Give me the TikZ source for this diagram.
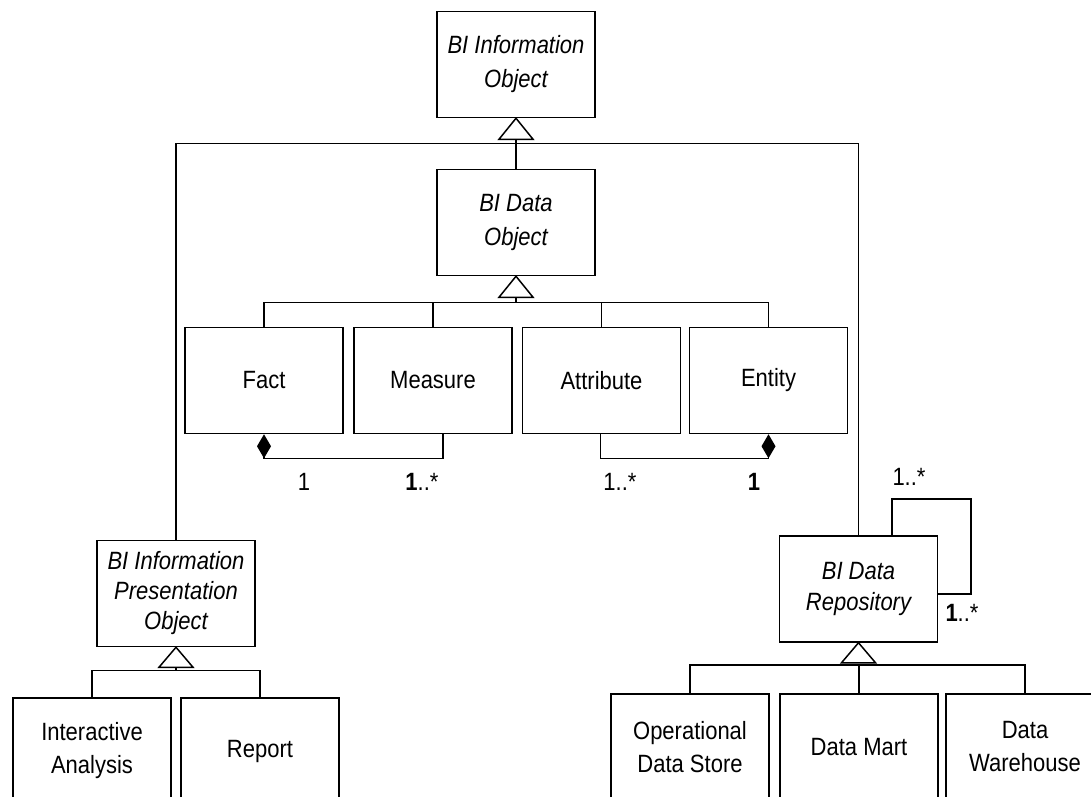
\documentclass[tikz,border=0pt]{standalone}
\usepackage{fontspec}
\setmainfont{Liberation Sans}[FakeStretch=0.88]
\usetikzlibrary{arrows.meta}

\tikzset{
    cls/.style={draw, line width=1.5pt, minimum width=158pt, minimum height=106pt,
        inner sep=2pt, align=center, font=\fontsize{25}{33}\selectfont},
    abstractcls/.style={cls, font=\fontsize{25}{34}\selectfont\itshape},
    link/.style={line width=1.5pt},
    genhead/.style={line width=1.5pt, fill=white},
    comp/.style={line width=1.5pt, {Diamond[length=24pt,width=14pt]}-},
    mult/.style={inner sep=0pt, font=\fontsize{25}{28}\selectfont}
}

\begin{document}
\begin{tikzpicture}[x=1pt, y=-1pt]
    
    \clip (0,0) rectangle (1091,796);
    \fill[white] (0,0) rectangle (1091,796);
    
    % abstract classes
    \node[abstractcls] (infoobj) at (516,64.5) {BI Information\\Object};
    \node[abstractcls] (dataobj) at (516,222.5) {BI Data\\Object};
    \node[abstractcls, font=\fontsize{25}{30}\selectfont\itshape] (presobj) at (176,593.5)
        {BI Information\\Presentation\\Object};
    \node[abstractcls, font=\fontsize{25}{31}\selectfont\itshape] (repo) at (858.5,589)
        {BI Data\\Repository};
    
    % concrete classes
    \node[cls] (fact) at (264,380.5) {Fact};
    \node[cls] (measure) at (433,380.5) {Measure};
    \node[cls] (attribute) at (601.5,380.5) {Attribute};
    \node[cls] (entity) at (768.5,380.5) {Entity};
    
    \node[cls] (interactive) at (92,751) {Interactive\\Analysis};
    \node[cls] (report) at (260,751) {Report};
    
    \node[cls] (ods) at (690,747) {Operational\\Data Store};
    \node[cls] (datamart) at (859,747) {Data Mart};
    \node[cls] (warehouse) at (1025,747) {Data\\Warehouse};
    
    % generalisation below BI Information Object
    \coordinate (infobus) at ([yshift=-25pt]infoobj.south);
    \draw[link] (presobj.north) |- (infobus) -| (repo.north);
    \draw[link] ([yshift=-21pt]infoobj.south) -- (dataobj.north);
    \draw[genhead] (infoobj.south) -- ++(-17,21) -- ++(34,0) -- cycle;
    
    % generalisation below BI Data Object
    \coordinate (databus) at ([yshift=-26pt]dataobj.south);
    \draw[link] (fact.north) |- (databus) -| (entity.north);
    \draw[link] (measure.north) -- (measure.north |- databus);
    \draw[link] (attribute.north) -- (attribute.north |- databus);
    \draw[link] ([yshift=-21pt]dataobj.south) -- (databus);
    \draw[genhead] (dataobj.south) -- ++(-17,21) -- ++(34,0) -- cycle;
    
    % generalisation below BI Information Presentation Object
    \coordinate (presbus) at ([yshift=-23pt]presobj.south);
    \draw[link] (interactive.north) |- (presbus) -| (report.north);
    \draw[link] ([yshift=-20pt]presobj.south) -- (presbus);
    \draw[genhead] (presobj.south) -- ++(-17,20) -- ++(34,0) -- cycle;
    
    % generalisation below BI Data Repository
    \coordinate (repobus) at ([yshift=-22pt]repo.south);
    \draw[link] (ods.north) |- (repobus) -| (warehouse.north);
    \draw[link] (datamart.north) -- (datamart.north |- repobus);
    \draw[genhead] (repo.south) -- ++(-17,20) -- ++(34,0) -- cycle;
    
    % compositions
    \draw[comp] (fact.south) -- ++(0,24) -| ([xshift=10pt]measure.south);
    \draw[comp] (entity.south) -- ++(0,24) -| ([xshift=-1pt]attribute.south);
    
    % self association of the repository
    \coordinate (loopcorner) at (971,499);
    \draw[link] ([xshift=33.5pt]repo.north) |- (loopcorner) |- ([yshift=-5pt]repo.east);
    
    % multiplicities
    \node[mult] (mfact) at (304,482) {1};
    \node[mult] (mmeasure) at (422,482) {\textbf{1}..*};
    \node[mult] (mattribute) at (620,482) {1..*};
    \node[mult] (mentity) at (754,482) {\textbf{1}};
    \node[mult] (mlooptop) at (909,477) {1..*};
    \node[mult] (mloopright) at (962,613) {\textbf{1}..*};
    
\end{tikzpicture}
\end{document}
